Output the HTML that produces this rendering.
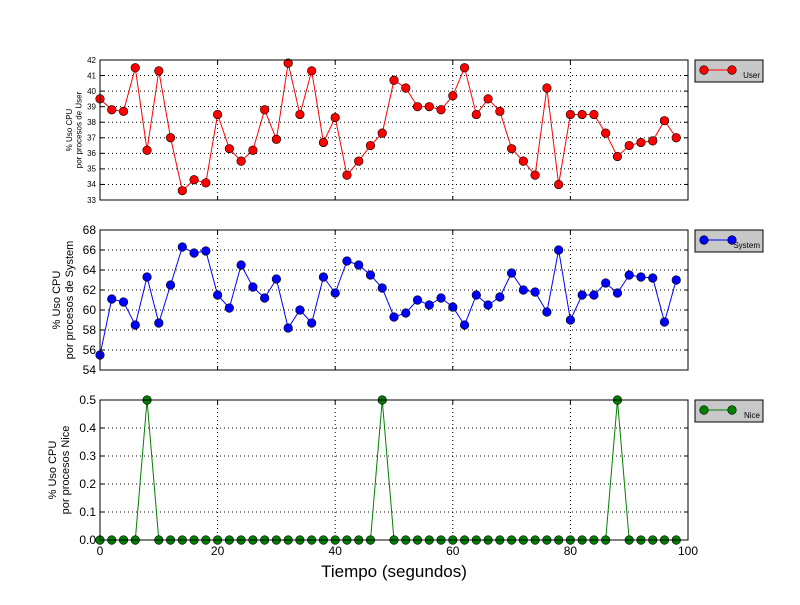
<!DOCTYPE html>
<html><head><meta charset="utf-8"><style>
body{margin:0;background:#fff;font-family:"Liberation Sans",sans-serif}
svg text{font-family:"Liberation Sans",sans-serif}
</style></head><body>
<svg id="c" width="800" height="600" xmlns="http://www.w3.org/2000/svg"></svg>
<script>
const xs=[0,2,4,6,8,10,12,14,16,18,20,22,24,26,28,30,32,34,36,38,40,42,44,46,48,50,52,54,56,58,60,62,64,66,68,70,72,74,76,78,80,82,84,86,88,90,92,94,96,98];
const userVals=[39.5,38.8,38.7,41.5,36.2,41.3,37.0,33.6,34.3,34.1,38.5,36.3,35.5,36.2,38.8,36.9,41.8,38.5,41.3,36.7,38.3,34.6,35.5,36.5,37.3,40.7,40.2,39.0,39.0,38.8,39.7,41.5,38.5,39.5,38.7,36.3,35.5,34.6,40.2,34.0,38.5,38.5,38.5,37.3,35.8,36.5,36.7,36.8,38.1,37.0];
const systemVals=[55.5,61.1,60.8,58.5,63.3,58.7,62.5,66.3,65.7,65.9,61.5,60.2,64.5,62.3,61.2,63.1,58.2,60.0,58.7,63.3,61.7,64.9,64.5,63.5,62.2,59.3,59.7,61.0,60.5,61.2,60.3,58.5,61.5,60.5,61.3,63.7,62.0,61.8,59.8,66.0,59.0,61.5,61.5,62.7,61.7,63.5,63.3,63.2,58.8,63.0];
const niceVals=[0,0,0,0,0.5,0,0,0,0,0,0,0,0,0,0,0,0,0,0,0,0,0,0,0,0.5,0,0,0,0,0,0,0,0,0,0,0,0,0,0,0,0,0,0,0,0.5,0,0,0,0,0];
const xTicks=[0,20,40,60,80,100];
const userTicks=[33,34,35,36,37,38,39,40,41,42];
const systemTicks=[54,56,58,60,62,64,66,68];
const niceTicks=[0,0.1,0.2,0.3,0.4,0.5];
const svg=document.getElementById('c');const NS='http://www.w3.org/2000/svg';
function mk(t,a,p){const e=document.createElementNS(NS,t);for(const k in a)e.setAttribute(k,a[k]);(p||svg).appendChild(e);return e;}
const X0=100,X1=688;const sx=v=>X0+(v/100)*(X1-X0);
function panel(name,top,bot,vals,ticks,mn,mx,color,fs,lbl,leg,fmt){
 const g=mk('g',{});
 
 
 const sy=v=>bot-(v-mn)/(mx-mn)*(bot-top);
 ticks.forEach(t=>{const y=sy(t);
  if(t!==mn&&t!==mx)mk('line',{x1:X0,x2:X1,y1:y,y2:y,stroke:'#000','stroke-dasharray':'1,3','stroke-width':1},g);
  mk('line',{x1:X0,x2:X0+4,y1:y,y2:y,stroke:'#000'},g);mk('line',{x1:X1-4,x2:X1,y1:y,y2:y,stroke:'#000'},g);
  const tx=mk('text',{x:X0-4,y:y+fs*0.35,'text-anchor':'end','font-size':fs},g);tx.textContent=fmt(t);
  
  });
 xTicks.forEach(t=>{const x=sx(t);
  if(t>0&&t<100)mk('line',{x1:x,x2:x,y1:top,y2:bot,stroke:'#000','stroke-dasharray':'1,3'},g);
  mk('line',{x1:x,x2:x,y1:bot,y2:bot-4,stroke:'#000'},g);mk('line',{x1:x,x2:x,y1:top,y2:top+4,stroke:'#000'},g);});
 const pts=xs.map((x,i)=>sx(x)+','+sy(vals[i])).join(' ');
 const pl=mk('polyline',{points:pts,fill:'none',stroke:color,'stroke-width':1},g);
 
 
 xs.forEach((x,i)=>{const c=mk('circle',{cx:sx(x),cy:sy(vals[i]),r:4.3,fill:color,stroke:'#000','stroke-width':0.6},g);
  
  });
 mk('rect',{x:X0,y:top,width:X1-X0,height:bot-top,fill:'none',stroke:'#000','stroke-width':1},g);
 const ly=(top+bot)/2;const lt=mk('text',{transform:`translate(${lbl.x},${ly}) rotate(-90)`,'text-anchor':'middle','font-size':lbl.fs},g);
 
 
 lbl.lines.forEach((s,i)=>{const ts=mk('tspan',{x:0,dy:i===0?0:lbl.fs*1.2},lt);ts.textContent=s;});
 const lg=mk('g',{},g);
 
 
 mk('rect',{x:695,y:top,width:68,height:22,fill:'#c8c8c8',stroke:'#000','stroke-width':1},lg);
 mk('line',{x1:704,x2:732,y1:top+10,y2:top+10,stroke:color},lg);
 mk('circle',{cx:704,cy:top+10,r:4.3,fill:color,stroke:'#000','stroke-width':0.6},lg);
 mk('circle',{cx:732,cy:top+10,r:4.3,fill:color,stroke:'#000','stroke-width':0.6},lg);
 const t=mk('text',{x:760,y:top+18,'text-anchor':'end','font-size':8},lg);t.textContent=leg;
}
panel('user',60,200,userVals,userTicks,33,42,'#ff0000',8,{x:72,fs:8,lines:['% Uso CPU','por procesos de User']},'User',v=>v);
panel('system',230,370,systemVals,systemTicks,54,68,'#0000ff',12,{x:60,fs:11,lines:['% Uso CPU','por procesos de System']},'System',v=>v);
panel('nice',400,540,niceVals,niceTicks,0,0.5,'#008000',12,{x:56,fs:11,lines:['% Uso CPU','por procesos Nice']},'Nice',v=>v.toFixed(1));
xTicks.forEach(t=>{const tx=mk('text',{x:sx(t),y:555,'text-anchor':'middle','font-size':12});tx.textContent=t;
 
 });
const xl=mk('text',{x:394,y:577,'text-anchor':'middle','font-size':17});xl.textContent='Tiempo (segundos)';


</script>
</body></html>
